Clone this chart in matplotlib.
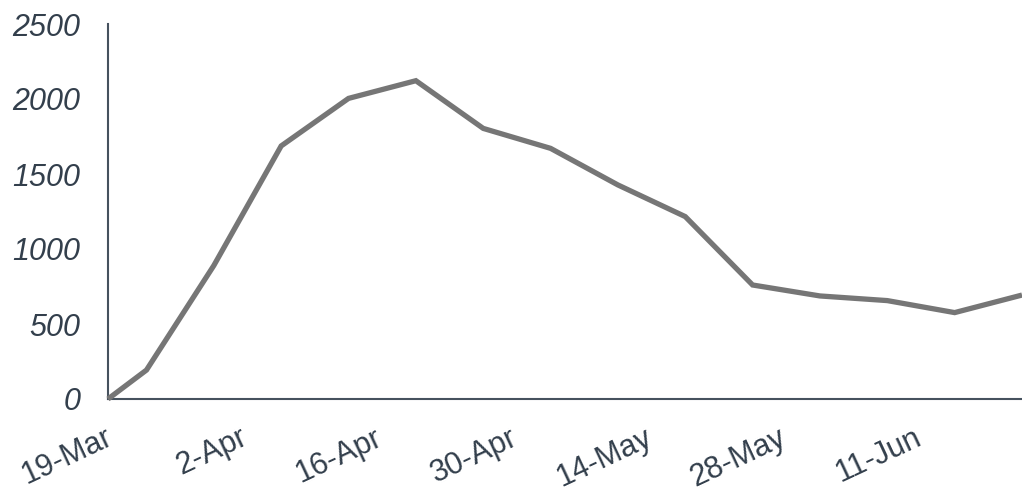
import matplotlib
matplotlib.use("Agg")
import matplotlib.pyplot as plt
import matplotlib.transforms as mtransforms
import pandas as pd

# Data
dates = ["2020-03-19", "2020-03-23", "2020-03-30", "2020-04-06", "2020-04-13",
         "2020-04-20", "2020-04-27", "2020-05-04", "2020-05-11", "2020-05-18",
         "2020-05-25", "2020-06-01", "2020-06-08", "2020-06-15", "2020-06-22"]
values = [0, 193, 890, 1687, 2004, 2122, 1804, 1671, 1427, 1216,
          760, 687, 656, 576, 693]
tick_dates = ["2020-03-19", "2020-04-02", "2020-04-16", "2020-04-30",
              "2020-05-14", "2020-05-28", "2020-06-11"]
tick_labels = ["19-Mar", "2-Apr", "16-Apr", "30-Apr", "14-May", "28-May", "11-Jun"]
y_ticks = [0, 500, 1000, 1500, 2000, 2500]

x = pd.to_datetime(dates)
xt = pd.to_datetime(tick_dates)

plt.rcParams['font.family'] = ['Liberation Sans', 'DejaVu Sans']

fig = plt.figure(figsize=(10.22, 4.93), dpi=100)
ax = fig.add_axes([108/1022, 1 - 399/493, (1022 - 108)/1022, (399 - 24)/493])

text_color = "#333f4c"
axis_color = "#46525e"

ax.plot(x, values, color="#767676", linewidth=3.8, solid_joinstyle="miter",
        solid_capstyle="butt", clip_on=False, zorder=3)

ax.set_xlim(pd.Timestamp("2020-03-19"), pd.Timestamp("2020-06-22"))
ax.set_ylim(0, 2500)

for s in ["top", "right"]:
    ax.spines[s].set_visible(False)
for s in ["left", "bottom"]:
    ax.spines[s].set_color(axis_color)
    ax.spines[s].set_linewidth(1.5)

ax.set_yticks(y_ticks)
ax.set_yticklabels([str(v) for v in y_ticks], fontsize=22, style="italic",
                   color=text_color)
ax.tick_params(axis="y", length=0, pad=20)

ax.set_xticks(xt)
ax.set_xticklabels(tick_labels, fontsize=22, color=text_color)
ax.tick_params(axis="x", length=0, pad=17)
offset = mtransforms.ScaledTranslation(-3/100, 0, fig.dpi_scale_trans)
for lbl in ax.get_xticklabels():
    lbl.set_rotation(25)
    lbl.set_ha("right")
    lbl.set_va("top")
    lbl.set_rotation_mode("anchor")
    lbl.set_transform(lbl.get_transform() + offset)

fig.savefig("out.png", dpi=100)
